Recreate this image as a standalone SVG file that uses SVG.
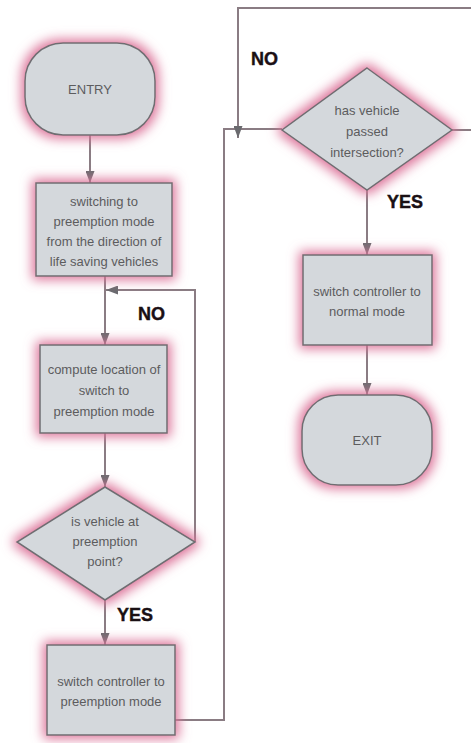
<svg xmlns="http://www.w3.org/2000/svg" width="471" height="743" viewBox="0 0 471 743">
<defs>
<style>
.node{fill:#d4d8dc;stroke:#6e6e72;stroke-width:1.5;filter:url(#glow)}
.t{font-family:"Liberation Sans",Arial,sans-serif;font-size:13px;fill:#5c5c5e;text-anchor:middle}
.lbl{font-family:"Liberation Sans",Arial,sans-serif;font-size:18px;font-weight:bold;fill:#1a1014;stroke:#1a1014;stroke-width:0.4}
.c{fill:none;stroke:#8a7c83;stroke-width:2}
</style>
<filter id="glow" x="-30%" y="-30%" width="160%" height="160%">
<feMorphology in="SourceAlpha" operator="dilate" radius="3" result="d"/>
<feGaussianBlur in="d" stdDeviation="6" result="b"/>
<feFlood flood-color="#dc7399"/>
<feComposite in2="b" operator="in" result="g"/>
<feMerge><feMergeNode in="g"/><feMergeNode in="SourceGraphic"/></feMerge>
</filter>
<marker id="ah" viewBox="0 0 12 9" refX="12" refY="4.5" markerWidth="12" markerHeight="9" markerUnits="userSpaceOnUse" orient="auto">
<path d="M0,0 L12,4.5 L0,9 z" fill="#6a6a6e"/>
</marker>
</defs>
<rect width="471" height="743" fill="#ffffff"/>
<g id="connectors">
<path class="c" d="M90,135 V183" marker-end="url(#ah)"/>
<path class="c" d="M105,276 V345" marker-end="url(#ah)"/>
<path class="c" d="M195,542 V290 H106" marker-end="url(#ah)"/>
<path class="c" d="M105,433 V487" marker-end="url(#ah)"/>
<path class="c" d="M105,600 V645" marker-end="url(#ah)"/>
<path class="c" d="M175,720 H224 V129 H282"/>
<path class="c" d="M452,130 H480 V8 H238 V138" marker-end="url(#ah)"/>
<path class="c" d="M367,190 V255" marker-end="url(#ah)"/>
<path class="c" d="M367,345 V395" marker-end="url(#ah)"/>
</g>
<g id="entry">
<rect class="node" x="25" y="43" width="130" height="92" rx="38" ry="38"/>
<text class="t" x="90" y="94">ENTRY</text>
</g>
<g id="switching">
<rect class="node" x="36" y="183" width="136" height="93"/>
<text class="t" x="104" y="206">switching to</text>
<text class="t" x="104" y="226">preemption mode</text>
<text class="t" x="104" y="246">from the direction of</text>
<text class="t" x="104" y="266">life saving vehicles</text>
</g>
<g id="compute">
<rect class="node" x="40" y="345" width="127" height="88"/>
<text class="t" x="104" y="374">compute location of</text>
<text class="t" x="104" y="395">switch to</text>
<text class="t" x="104" y="416">preemption mode</text>
</g>
<g id="decision1">
<polygon class="node" points="105,487 195,542 105,600 17,542"/>
<text class="t" x="105" y="526">is vehicle at</text>
<text class="t" x="105" y="546">preemption</text>
<text class="t" x="105" y="566">point?</text>
</g>
<g id="preempt">
<rect class="node" x="47" y="645" width="128" height="90"/>
<text class="t" x="111" y="686">switch controller to</text>
<text class="t" x="111" y="706">preemption mode</text>
</g>
<g id="decision2">
<polygon class="node" points="367,68 452,130 367,190 282,130"/>
<text class="t" x="367" y="115">has vehicle</text>
<text class="t" x="367" y="136">passed</text>
<text class="t" x="367" y="157">intersection?</text>
</g>
<g id="normal">
<rect class="node" x="303" y="255" width="129" height="90"/>
<text class="t" x="367" y="296">switch controller to</text>
<text class="t" x="367" y="316">normal mode</text>
</g>
<g id="exit">
<rect class="node" x="302" y="395" width="130" height="90" rx="36" ry="36"/>
<text class="t" x="367" y="445">EXIT</text>
</g>
<g id="labels">
<text class="lbl" x="138" y="320">NO</text>
<text class="lbl" x="117" y="621">YES</text>
<text class="lbl" x="251" y="65">NO</text>
<text class="lbl" x="387" y="208">YES</text>
</g>
</svg>
